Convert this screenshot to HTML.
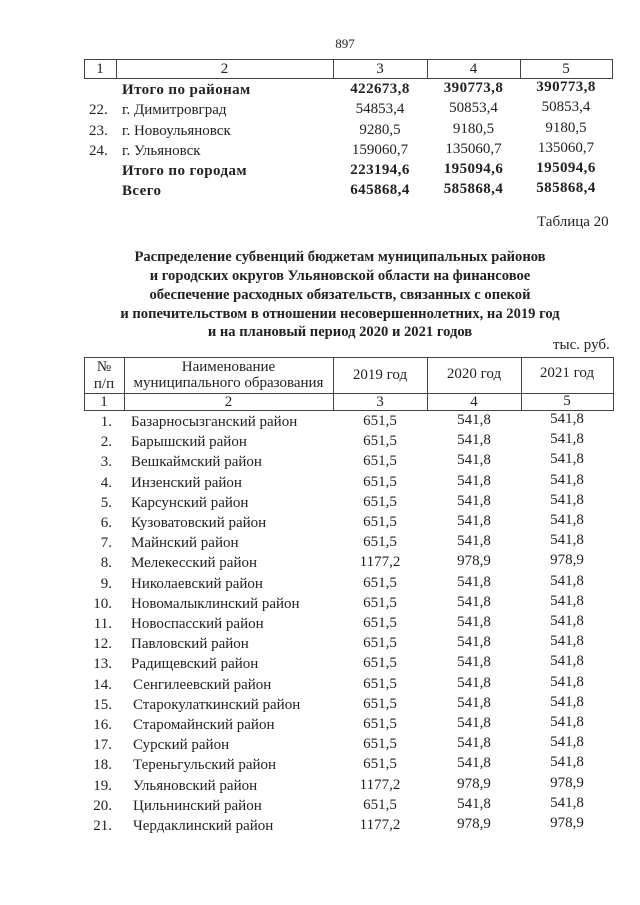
<!DOCTYPE html>
<html><head><meta charset="utf-8"><style>
body{margin:0;width:640px;height:905px;background:#fff;position:relative;font-family:"Liberation Serif","DejaVu Serif",serif;color:#222;overflow:hidden}
.a{position:absolute;white-space:nowrap;font-size:15px;line-height:16px}
.b{font-weight:bold;letter-spacing:0.4px}
.t{font-weight:bold;letter-spacing:0px;font-size:14.6px}
.c{text-align:center}
.r{text-align:right}
.hl{position:absolute;height:1px;background:#444}
.vl{position:absolute;width:1px;background:#444}
</style></head><body>
<div class="a c" style="left:320px;top:36px;width:50px;font-size:13px">897</div>
<div class="hl" style="left:84px;top:59px;width:529px"></div>
<div class="hl" style="left:84px;top:78px;width:529px"></div>
<div class="vl" style="left:84px;top:59px;height:20px"></div>
<div class="vl" style="left:116px;top:59px;height:20px"></div>
<div class="vl" style="left:333px;top:59px;height:20px"></div>
<div class="vl" style="left:427px;top:59px;height:20px"></div>
<div class="vl" style="left:520px;top:59px;height:20px"></div>
<div class="vl" style="left:612px;top:59px;height:20px"></div>
<div class="a c" style="left:84px;top:61px;width:32px">1</div>
<div class="a c" style="left:116px;top:61px;width:217px">2</div>
<div class="a c" style="left:333px;top:61px;width:94px">3</div>
<div class="a c" style="left:427px;top:61px;width:93px">4</div>
<div class="a c" style="left:520px;top:61px;width:92px">5</div>

<div class="a b" style="left:122px;top:82px">Итого по районам</div>
<div class="a b c" style="left:333px;top:81px;width:94px">422673,8</div>
<div class="a b c" style="left:427px;top:80px;width:93px">390773,8</div>
<div class="a b c" style="left:520px;top:79px;width:92px">390773,8</div>
<div class="a" style="left:89px;top:102px">22.</div><div class="a" style="left:122px;top:102px">г. Димитровград</div>
<div class="a c" style="left:333px;top:101px;width:94px">54853,4</div>
<div class="a c" style="left:427px;top:100px;width:93px">50853,4</div>
<div class="a c" style="left:520px;top:99px;width:92px">50853,4</div>
<div class="a" style="left:89px;top:123px">23.</div><div class="a" style="left:122px;top:123px">г. Новоульяновск</div>
<div class="a c" style="left:333px;top:122px;width:94px">9280,5</div>
<div class="a c" style="left:427px;top:121px;width:93px">9180,5</div>
<div class="a c" style="left:520px;top:120px;width:92px">9180,5</div>
<div class="a" style="left:89px;top:143px">24.</div><div class="a" style="left:122px;top:143px">г. Ульяновск</div>
<div class="a c" style="left:333px;top:142px;width:94px">159060,7</div>
<div class="a c" style="left:427px;top:141px;width:93px">135060,7</div>
<div class="a c" style="left:520px;top:140px;width:92px">135060,7</div>
<div class="a b" style="left:122px;top:163px">Итого по городам</div>
<div class="a b c" style="left:333px;top:162px;width:94px">223194,6</div>
<div class="a b c" style="left:427px;top:161px;width:93px">195094,6</div>
<div class="a b c" style="left:520px;top:160px;width:92px">195094,6</div>
<div class="a b" style="left:122px;top:183px">Всего</div>
<div class="a b c" style="left:333px;top:182px;width:94px">645868,4</div>
<div class="a b c" style="left:427px;top:181px;width:93px">585868,4</div>
<div class="a b c" style="left:520px;top:180px;width:92px">585868,4</div>

<div class="a" style="left:537px;top:214px">Таблица 20</div>

<div class="a t c" style="left:80px;top:249px;width:520px">Распределение субвенций бюджетам муниципальных районов</div>
<div class="a t c" style="left:80px;top:268px;width:520px">и городских округов Ульяновской области на финансовое</div>
<div class="a t c" style="left:80px;top:287px;width:520px">обеспечение расходных обязательств, связанных с опекой</div>
<div class="a t c" style="left:80px;top:306px;width:520px">и попечительством в отношении несовершеннолетних, на 2019 год</div>
<div class="a t c" style="left:80px;top:324px;width:520px">и на плановый период 2020 и 2021 годов</div>
<div class="a" style="left:553px;top:337px">тыс. руб.</div>

<div class="hl" style="left:84px;top:357px;width:530px"></div>
<div class="hl" style="left:84px;top:393px;width:530px"></div>
<div class="hl" style="left:84px;top:410px;width:530px"></div>
<div class="vl" style="left:84px;top:357px;height:54px"></div>
<div class="vl" style="left:124px;top:357px;height:54px"></div>
<div class="vl" style="left:333px;top:357px;height:54px"></div>
<div class="vl" style="left:427px;top:357px;height:54px"></div>
<div class="vl" style="left:521px;top:357px;height:54px"></div>
<div class="vl" style="left:613px;top:357px;height:54px"></div>
<div class="a c" style="left:84px;top:359px;width:40px">№</div>
<div class="a c" style="left:84px;top:376px;width:40px">п/п</div>
<div class="a c" style="left:124px;top:359px;width:209px">Наименование</div>
<div class="a c" style="left:124px;top:375px;width:209px">муниципального образования</div>
<div class="a c" style="left:333px;top:367px;width:94px">2019 год</div>
<div class="a c" style="left:427px;top:366px;width:94px">2020 год</div>
<div class="a c" style="left:521px;top:365px;width:92px">2021 год</div>
<div class="a c" style="left:84px;top:394px;width:40px">1</div>
<div class="a c" style="left:124px;top:394px;width:209px">2</div>
<div class="a c" style="left:333px;top:394px;width:94px">3</div>
<div class="a c" style="left:427px;top:394px;width:94px">4</div>
<div class="a c" style="left:521px;top:393px;width:92px">5</div>

<div id="rows"></div>
<script>
var d=[["Базарносызганский район",0],["Барышский район",0],["Вешкаймский район",0],["Инзенский район",0],["Карсунский район",0],["Кузоватовский район",0],["Майнский район",0],["Мелекесский район",1],["Николаевский район",0],["Новомалыклинский район",0],["Новоспасский район",0],["Павловский район",0],["Радищевский район",0],["Сенгилеевский район",0],["Старокулаткинский район",0],["Старомайнский район",0],["Сурский район",0],["Тереньгульский район",0],["Ульяновский район",1],["Цильнинский район",0],["Чердаклинский район",1]];
var h="";
for(var i=0;i<d.length;i++){var y=414+i*20.2;var big=d[i][1];
h+='<div class="a r" style="left:86px;top:'+y+'px;width:26px">'+(i+1)+'.</div>';
h+='<div class="a" style="left:'+(131+(i>12?2:0))+'px;top:'+y+'px">'+d[i][0]+'</div>';
h+='<div class="a c" style="left:333px;top:'+(y-1)+'px;width:94px">'+(big?'1177,2':'651,5')+'</div>';
h+='<div class="a c" style="left:427px;top:'+(y-2)+'px;width:94px">'+(big?'978,9':'541,8')+'</div>';
h+='<div class="a c" style="left:521px;top:'+(y-3)+'px;width:92px">'+(big?'978,9':'541,8')+'</div>';}
document.getElementById('rows').innerHTML=h;
</script>
</body></html>
